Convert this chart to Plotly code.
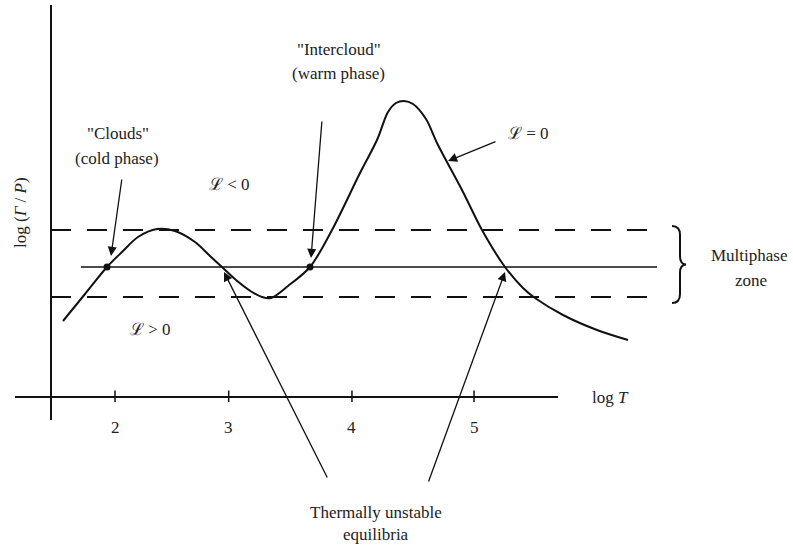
import plotly.graph_objects as go

# ---- data (schematic cooling/heating equilibrium curve) ----
log_T = [1.5654, 1.7493, 1.9331, 2.0584, 2.1921, 2.3509, 2.5013, 2.6684, 2.7938,
         2.8940, 3.0111, 3.1447, 3.2284, 3.3036, 3.4456, 3.6294, 3.8133,
         4.0472, 4.1893, 4.2812, 4.3481, 4.4149, 4.4901, 4.5987, 4.6907, 4.9079,
         5.0667, 5.2589, 5.4093, 5.5096, 5.7436, 6.0277, 6.2867]
log_GP = [0.76, 1.03, 1.30, 1.45, 1.60, 1.68, 1.66, 1.55, 1.41,
          1.30, 1.17, 1.05, 1.00, 0.99, 1.11, 1.30, 1.67,
          2.24, 2.57, 2.85, 2.94, 2.96, 2.93, 2.78, 2.54, 2.05,
          1.67, 1.30, 1.09, 0.99, 0.82, 0.67, 0.57]

# stable equilibria (dots)
stable_x = [1.9331, 3.6294]
stable_y = [1.30, 1.30]

# pressure levels
level_upper = 1.67
level_mid = 1.30
level_lower = 1.00

tick_pos = [2.0, 2.95, 3.98, 5.0]
tick_text = ["2", "3", "4", "5"]

# ---- layout constants ----
X_RANGE = [124.33 / 119.67, (793 + 124.33) / 119.67]
Y_RANGE = [-1.50, 3.97]
AX_X0, AX_X1 = 1.1643, 5.7018      # x-axis line extent
AY_X = 1.4651                       # y-axis position
AY_Y0, AY_Y1 = -0.23, 3.92          # y-axis line extent
DASH_X0, DASH_X1 = 1.4651, 6.4538
MID_X0, MID_X1 = 1.7155, 6.5291

INK = "#111111"
TXT = "#222222"
FONT = "Liberation Serif, Times New Roman, serif"
FS = 17

fig = go.Figure()

# curve
fig.add_trace(go.Scatter(x=log_T, y=log_GP, mode="lines",
                         line=dict(color=INK, width=2, shape="spline", smoothing=0.9),
                         hoverinfo="skip", showlegend=False))
# stable points
fig.add_trace(go.Scatter(x=stable_x, y=stable_y, mode="markers",
                         marker=dict(color=INK, size=7),
                         hoverinfo="skip", showlegend=False))

shapes = []
# axes
shapes.append(dict(type="line", xref="x", yref="y", x0=AX_X0, x1=AX_X1, y0=0, y1=0,
                   line=dict(color=INK, width=2)))
shapes.append(dict(type="line", xref="x", yref="y", x0=AY_X, x1=AY_X, y0=AY_Y0, y1=AY_Y1,
                   line=dict(color=INK, width=2)))
# ticks
for t in tick_pos:
    shapes.append(dict(type="line", xref="x", yref="y", x0=t, x1=t, y0=-0.05, y1=0.065,
                       line=dict(color=INK, width=1.5)))
# dashed levels
for lv in (level_upper, level_lower):
    shapes.append(dict(type="line", xref="x", yref="y", x0=DASH_X0, x1=DASH_X1, y0=lv, y1=lv,
                       line=dict(color=INK, width=2, dash="20px,16px")))
# mid solid level
shapes.append(dict(type="line", xref="x", yref="y", x0=MID_X0, x1=MID_X1, y0=level_mid, y1=level_mid,
                   line=dict(color=INK, width=1.6)))

# brace "}" spanning the multiphase zone
bx0, bx1, bx2 = 6.6545, 6.7213, 6.7715
bt, bb = level_upper + 0.04, level_lower - 0.06
bm = (bt + bb) / 2
brace = (f"M {bx0},{bt} Q {bx1},{bt} {bx1},{bt-0.09} L {bx1},{bm+0.08} "
         f"Q {bx1},{bm+0.005} {bx2},{bm} Q {bx1},{bm-0.005} {bx1},{bm-0.08} "
         f"L {bx1},{bb+0.09} Q {bx1},{bb} {bx0},{bb}")
shapes.append(dict(type="path", xref="x", yref="y", path=brace,
                   line=dict(color=INK, width=2)))

ann = []
def text(x, y, s, size=FS, angle=0):
    ann.append(dict(x=x, y=y, xref="x", yref="y", text=s, showarrow=False,
                    textangle=angle, font=dict(family=FONT, size=size, color=TXT)))

def arrow(hx, hy, tx, ty):
    ann.append(dict(x=hx, y=hy, ax=tx, ay=ty, xref="x", yref="y", axref="x", ayref="y",
                    text="", showarrow=True, arrowhead=2, arrowsize=1.4, arrowwidth=1.3,
                    arrowcolor=INK, standoff=0))

for t, s in zip(tick_pos, tick_text):
    text(t, -0.30, s)

text(6.1363, 0.0, "log <i>T</i>")
text(1.206, 1.85, "log (<i>Γ</i> / <i>P</i>)", angle=-90)

text(2.0249, 2.64, "\"Clouds\"")
text(2.0166, 2.39, "(cold phase)")
text(3.8718, 3.48, "\"Intercloud\"")
text(3.8635, 3.24, "(warm phase)")
text(2.9525, 2.13, "ℒ &lt; 0")
text(2.2924, 0.68, "ℒ &gt; 0")
text(5.4511, 2.64, "ℒ = 0")
text(7.2979, 1.42, "Multiphase")
text(7.3146, 1.17, "zone")
text(4.1810, -1.15, "Thermally unstable")
text(4.1810, -1.37, "equilibria")

arrow(1.9665, 1.41, 2.0584, 2.19)
arrow(3.6378, 1.39, 3.7297, 2.77)
arrow(4.7826, 2.36, 5.1920, 2.56)
arrow(2.9108, 1.25, 3.7798, -0.82)
arrow(5.2589, 1.25, 4.6155, -0.86)

fig.update_layout(
    width=793, height=547,
    margin=dict(l=0, r=0, t=0, b=0),
    paper_bgcolor="white", plot_bgcolor="white",
    xaxis=dict(range=X_RANGE, visible=False, fixedrange=True),
    yaxis=dict(range=Y_RANGE, visible=False, fixedrange=True),
    shapes=shapes, annotations=ann, showlegend=False,
)

fig.write_html("out.html")
